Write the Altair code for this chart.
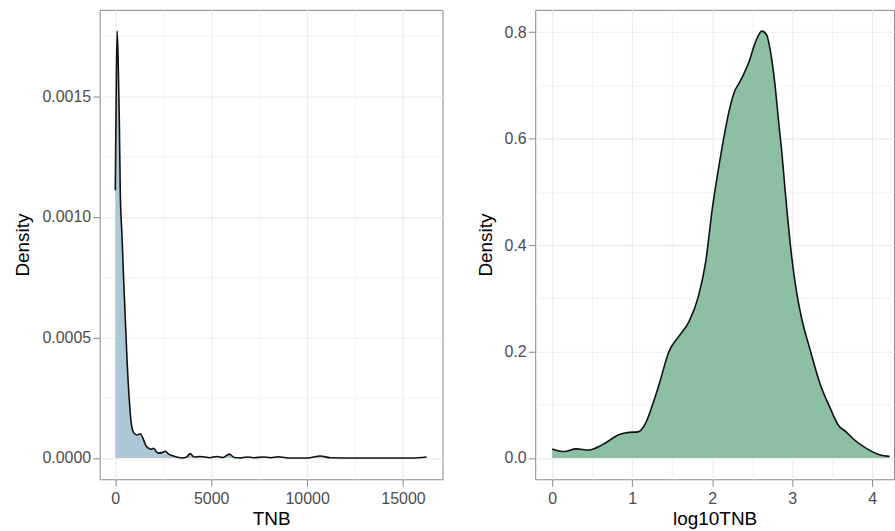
import altair as alt
import pandas as pd

# ---- data ----
tnb_x = [0, 45, 95, 150, 210, 260, 350, 435, 520, 610, 730, 830, 955, 1130, 1300, 1475,
         1600, 1736, 1860, 1997, 2120, 2257, 2430, 2604, 2780, 2951, 3200, 3472, 3700,
         3906, 4100, 4400, 4690, 4900, 5300, 5600, 5940, 6200, 6500, 6860, 7200, 7710,
         8100, 8490, 9000, 10000, 10690, 11200, 12500, 14000, 15500, 16230]
tnb_d = [0.00111, 0.00150, 0.00177, 0.00165, 0.00140, 0.00110, 0.00092, 0.00074, 0.00058,
         0.00041, 0.00024, 0.000145, 0.000105, 0.000095, 0.000100, 0.000075, 0.000050,
         0.000040, 0.000036, 0.000040, 0.000028, 0.000020, 0.000022, 0.000028, 0.000016,
         0.000010, 0.000004, 0.0, 0.000003, 0.000018, 0.000004, 0.000006, 0.000004,
         0.000001, 0.000006, 0.000002, 0.000016, 0.000002, 0.0, 0.000004, 0.000001,
         0.000004, 0.000001, 0.000005, 0.0, 0.0, 0.000008, 0.000001, 0.0, 0.0, 0.0, 0.000004]

log_x = [0, 0.15, 0.30, 0.46, 0.63, 0.84, 0.96, 1.07, 1.17, 1.25, 1.34, 1.46, 1.58, 1.71,
         1.83, 1.92, 2.0, 2.08, 2.143, 2.205, 2.27, 2.35, 2.454, 2.537, 2.62, 2.68, 2.724,
         2.786, 2.827, 2.87, 2.91, 2.94, 2.973, 3.035, 3.118, 3.22, 3.346, 3.47, 3.574,
         3.68, 3.76, 3.926, 4.09, 4.216]
log_d = [0.017, 0.012, 0.017, 0.015, 0.025, 0.044, 0.048, 0.049, 0.066, 0.098, 0.14, 0.200,
         0.228, 0.256, 0.305, 0.37, 0.467, 0.545, 0.600, 0.648, 0.685, 0.708, 0.742, 0.780,
         0.802, 0.795, 0.767, 0.699, 0.636, 0.574, 0.505, 0.455, 0.405, 0.330, 0.262, 0.205,
         0.140, 0.095, 0.062, 0.048, 0.036, 0.018, 0.006, 0.003]

left_x_ticks = [0, 2500, 5000, 7500, 10000, 12500, 15000]
left_y_ticks = [0, 0.00025, 0.0005, 0.00075, 0.001, 0.00125, 0.0015, 0.00175]
right_x_ticks = [0, 0.5, 1, 1.5, 2, 2.5, 3, 3.5, 4]
right_y_ticks = [0, 0.1, 0.2, 0.3, 0.4, 0.5, 0.6, 0.7, 0.8]

df_l = pd.DataFrame({"TNB": tnb_x, "density": tnb_d})
df_r = pd.DataFrame({"log10TNB": log_x, "density": log_d})


def make_axis(values, title, major_test, fmt):
    return alt.Axis(
        values=values,
        title=title,
        labelExpr=f"({major_test}) ? format(datum.value, '{fmt}') : ''",
        tickOpacity={"condition": {"test": major_test, "value": 1}, "value": 0},
        gridWidth={"condition": {"test": major_test, "value": 1.1}, "value": 0.6},
    )


lx_test = "datum.value % 5000 == 0"
ly_test = "abs(datum.value*2000 - round(datum.value*2000)) < 1e-6"
rx_test = "datum.value % 1 == 0"
ry_test = "abs(datum.value*5 - round(datum.value*5)) < 1e-6"

lx = alt.X("TNB:Q", scale=alt.Scale(domain=[-815, 17060], nice=False, zero=False),
           axis=make_axis(left_x_ticks, "TNB", lx_test, "d"))
ly = alt.Y("density:Q", scale=alt.Scale(domain=[-0.0000885, 0.001858], nice=False, zero=False),
           axis=make_axis(left_y_ticks, "Density", ly_test, ".4f"))

left_base = alt.Chart(df_l)
left = alt.layer(
    left_base.mark_area(color="#aec7d6", interpolate="monotone", clip=True).encode(x=lx, y=ly),
    left_base.mark_line(color="#111111", strokeWidth=1.6, interpolate="monotone", clip=True).encode(x=lx, y=ly),
).properties(width=344, height=471)

rx = alt.X("log10TNB:Q", scale=alt.Scale(domain=[-0.2117, 4.2715], nice=False, zero=False),
           axis=make_axis(right_x_ticks, "log10TNB", rx_test, "d"))
ry = alt.Y("density:Q", scale=alt.Scale(domain=[-0.0401, 0.842], nice=False, zero=False),
           axis=make_axis(right_y_ticks, "Density", ry_test, ".1f"))

right_base = alt.Chart(df_r)
right = alt.layer(
    right_base.mark_area(color="#8dc0a3", interpolate="monotone", clip=True).encode(x=rx, y=ry),
    right_base.mark_line(color="#111111", strokeWidth=1.6, interpolate="monotone", clip=True).encode(x=rx, y=ry),
).properties(width=360, height=471)

chart = alt.hconcat(left, right, spacing=32).configure(
    padding={"left": 13, "top": 8, "right": 0, "bottom": 0},
    background="white",
).configure_view(
    stroke="#888888", strokeWidth=1
).configure_axis(
    labelFont="Liberation Sans", titleFont="Liberation Sans",
    labelFontSize=16, titleFontSize=19, titleFontWeight="normal",
    labelColor="#4D4D4D", titleColor="#000000",
    tickColor="#888888", tickSize=7, tickWidth=1,
    domain=False, gridColor="#EBEBEB",
    labelPadding=2, titlePadding=9,
).configure_axisX(
    labelPadding=4, titlePadding=3,
)

chart.save("out.html", embed_options={"renderer": "svg", "actions": False})
